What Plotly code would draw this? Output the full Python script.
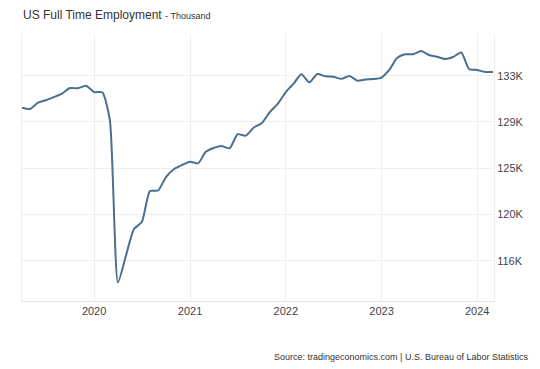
import plotly.graph_objects as go
import pandas as pd

# Monthly data, April 2019 - March 2024 (thousands of persons, in K units)
months = pd.date_range("2019-04-01", "2024-03-01", freq="MS")
employment_k = [
    130.06, 129.94, 130.52, 130.74, 131.04, 131.36, 131.87, 131.84, 132.08,  # Apr-Dec 2019
    131.50, 131.47, 128.93, 114.01, 116.43, 118.91, 119.56, 122.40, 122.45,  # Jan-Sep 2020
    123.69, 124.43, 124.79,                                                  # Oct-Dec 2020
    125.10, 124.95, 125.99, 126.36, 126.54, 126.33, 127.62, 127.49, 128.24,  # 2021
    128.63, 129.66, 130.40,
    131.50, 132.30, 133.13, 132.39, 133.16, 132.94, 132.91, 132.71, 132.97,  # 2022
    132.54, 132.66, 132.69,
    132.83, 133.57, 134.63, 134.97, 134.97, 135.27, 134.90, 134.74, 134.53,  # 2023
    134.72, 135.13, 133.62,
    133.52, 133.34, 133.34,                                                  # 2024
]
y_tick_values = [116, 120.25, 124.5, 128.75, 133]
y_tick_labels = ["116K", "120K", "125K", "129K", "133K"]
x_tick_labels = ["2020", "2021", "2022", "2023", "2024"]
x_tick_values = ["2020-01-01", "2021-01-01", "2022-01-01", "2023-01-01", "2024-01-01"]

fig = go.Figure()
fig.add_trace(go.Scatter(
    x=months, y=employment_k, mode="lines",
    line=dict(color="#4a6f8f", width=2, shape="spline", smoothing=0.6),
    hoverinfo="skip", showlegend=False,
))

font_family = "Liberation Sans, Arial, sans-serif"
fig.update_layout(
    width=540, height=369,
    margin=dict(l=22, r=46, t=34, b=68),
    paper_bgcolor="white", plot_bgcolor="white",
    font=dict(family=font_family, color="#333333", size=11),
    xaxis=dict(
        range=["2019-04-01", "2024-03-05"],
        tickvals=x_tick_values, ticktext=x_tick_labels,
        showgrid=True, gridcolor="#eeeeee", gridwidth=1,
        showline=True, linecolor="#e3e3e3", linewidth=1,
        ticks="", zeroline=False,
        tickfont=dict(size=11, color="#444444"),
    ),
    yaxis=dict(
        side="right", range=[112.30, 136.83],
        tickvals=y_tick_values, ticktext=y_tick_labels,
        showgrid=True, gridcolor="#eeeeee", gridwidth=1,
        showline=True, mirror=True, linecolor="#eeeeee", linewidth=1,
        ticks="", zeroline=False,
        tickfont=dict(size=11, color="#444444"),
    ),
    annotations=[
        dict(text="US Full Time Employment <span style='font-size:9px'>- Thousand</span>",
             xref="paper", yref="paper", x=-0.002, y=1.0, yshift=19,
             xanchor="left", yanchor="middle", showarrow=False,
             font=dict(size=12, color="#333333", family=font_family)),
        dict(text="Source: tradingeconomics.com | U.S. Bureau of Labor Statistics",
             xref="paper", yref="paper", x=1.0, xshift=36, y=0, yshift=-56,
             xanchor="right", yanchor="middle", showarrow=False,
             font=dict(size=9, color="#333333", family=font_family)),
    ],
)

fig.write_html("out.html", config={"displayModeBar": False},
               post_script="document.body.style.margin='0px';")
